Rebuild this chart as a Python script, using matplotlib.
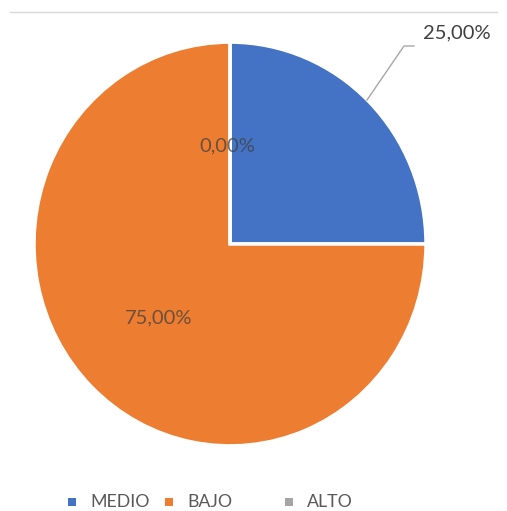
import matplotlib.pyplot as plt
from matplotlib.patches import Rectangle
from matplotlib.lines import Line2D

plt.rcParams['font.family'] = ['Lato', 'DejaVu Sans']

categorias = ["MEDIO", "BAJO", "ALTO"]
porcentajes = [25.0, 75.0, 0.0]
colores = ["#4472C4", "#ED7D31", "#A5A5A5"]

W, H = 507, 511
fig = plt.figure(figsize=(W / 100, H / 100), dpi=100)

# posicion en pixeles -> fraccion de figura
def px(x, y):
    return x / W, 1 - y / H

def fmt(v):
    return f"{v:.2f}".replace('.', ',') + '%'

# el circulo sale un poco estirado en vertical
esc = 1.03
ax = fig.add_axes([0, 0, 1, 1])
cx, cy, r = 230, (H - 244) / esc, 196
ax.pie(porcentajes, colors=colores, startangle=90, counterclock=False,
       center=(cx, cy), radius=r, frame=True,
       wedgeprops=dict(edgecolor='white', linewidth=2.5))
ax.set_aspect('auto')
ax.set_xlim(0, W)
ax.set_ylim(0, H / esc)
ax.axis('off')

# linea superior
fig.add_artist(Line2D([10 / W, 497 / W], [1 - 12 / H] * 2, color='#d9d9d9', lw=1))

txt = '#404040'
x, y = px(457, 33)
fig.text(x, y, fmt(porcentajes[0]), ha='center', va='center', fontsize=14.5, color=txt)
xs, ys = zip(px(367, 100), px(404, 46), px(414, 46))
fig.add_artist(Line2D(xs, ys, color='#a6a6a6', lw=1))
x, y = px(227, 146)
fig.text(x, y, fmt(porcentajes[2]), ha='center', va='center', fontsize=14.5, color=txt, alpha=0.75)
x, y = px(159, 318)
fig.text(x, y, fmt(porcentajes[1]), ha='center', va='center', fontsize=14.5, color=txt, alpha=0.75)

# leyenda
pos_leyenda = [68, 165, 285]
for x0, nombre, c in zip(pos_leyenda, categorias, colores):
    x, y = px(x0, 506)
    fig.add_artist(Rectangle((x, y), 8 / W, 8 / H, facecolor=c, edgecolor='none'))
    x, y = px(x0 + 22, 502)
    fig.text(x, y, nombre, ha='left', va='center', fontsize=12.8, color='#595959')

fig.savefig('out.png', dpi=100, facecolor='white')
